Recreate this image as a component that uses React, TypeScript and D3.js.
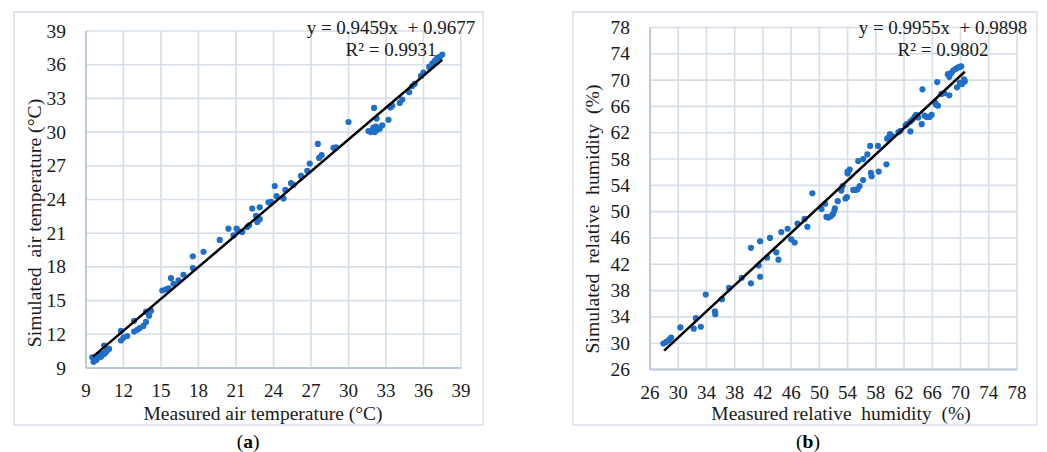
import React from "react";
import * as d3 from "d3";

// Panel (a): air temperature
const tempMeasured = [9.5, 9.6, 9.65, 9.8, 9.9, 10.0, 10.1, 10.2, 10.3, 10.4, 10.45, 10.5, 10.6, 10.7, 10.85, 10.2, 9.75,
  11.8, 11.8, 12.0, 12.3,
  12.85, 12.85, 13.1, 13.3, 13.6, 13.8, 13.8, 14.05, 14.2, 14.0,
  15.1, 15.4, 15.6, 15.8, 16.0, 16.4, 16.8,
  17.55, 17.55, 18.4,
  19.7, 20.4, 20.8, 21.05, 21.15, 21.5, 21.9, 22.05, 22.3, 22.6, 22.7, 22.9, 22.9, 23.6, 23.8,
  24.1, 24.25, 24.8, 24.95, 25.4, 25.6, 26.2, 26.7, 26.9, 27.55, 27.65, 27.85, 28.8, 29.0,
  30.0, 31.6, 31.8, 31.9, 32.0, 32.05, 32.1, 32.2, 32.25, 32.3, 32.5, 32.7, 33.2, 33.35, 33.5, 34.1, 34.3, 34.85, 35.1, 35.3, 35.8, 36.0, 36.45, 36.7, 36.9, 37.1, 37.3, 37.5];
const tempSimulated = [9.95, 9.55, 9.75, 9.7, 9.85, 9.95, 10.05, 10.0, 10.15, 10.25, 11.0, 10.3, 10.45, 10.55, 10.7, 10.3, 9.9,
  12.3, 11.45, 11.7, 11.85,
  13.2, 12.25, 12.4, 12.55, 12.75, 13.1, 14.0, 13.65, 14.1, 14.05,
  15.9, 16.0, 16.1, 17.0, 16.5, 16.8, 17.3,
  18.95, 17.9, 19.35,
  20.4, 21.4, 20.8, 21.4, 21.2, 21.1, 21.55, 21.7, 23.2, 22.55, 22.0, 23.3, 22.25, 23.75, 23.8,
  25.2, 24.3, 24.1, 24.85, 25.45, 25.3, 26.1, 26.55, 27.2, 28.95, 27.7, 27.95, 28.6, 28.65,
  30.9, 30.1, 30.0, 30.15, 30.4, 32.15, 30.0, 30.5, 31.2, 30.2, 30.3, 30.6, 31.1, 32.2, 32.35, 32.6, 32.9, 33.55, 34.1, 34.3, 35.0, 35.3, 35.8, 36.1, 36.35, 36.6, 36.7, 36.9];
const tempTicks = [9, 12, 15, 18, 21, 24, 27, 30, 33, 36, 39];
const tempFit = [9.56, 37.5];

// Panel (b): relative humidity
const rhMeasured = [27.9, 28.3, 28.7, 29.0, 30.3, 32.2, 32.5, 33.2, 33.9, 35.2, 35.25, 36.2, 37.2, 39.0, 40.3, 40.3, 41.6, 41.4, 41.6, 42.6, 43.0, 43.9, 44.2, 44.6, 45.5, 46.0, 46.5, 46.9, 47.9, 48.3,
  49.0, 50.3, 50.8, 51.0, 51.3, 51.6, 51.9, 52.1, 52.2, 52.6, 53.1, 53.3, 53.7, 53.9, 54.0, 54.3, 54.0, 54.8, 55.1, 55.4, 55.7, 55.5, 56.2, 56.2, 56.8, 57.2, 57.3, 57.4, 58.3, 58.4,
  59.5, 59.6, 59.8, 60.0, 60.3, 61.2, 61.5, 62.2, 62.4, 62.9, 62.9, 63.2, 63.5, 63.7, 64.0, 64.5, 64.6, 64.9, 65.2, 65.6, 65.9, 66.4, 66.5, 66.7, 66.8, 67.3, 67.7, 68.4,
  68.2, 68.4, 68.7, 69.0, 69.3, 69.6, 69.9, 70.1, 69.5, 69.9, 70.2, 70.5, 70.6];
const rhSimulated = [29.95, 30.2, 30.5, 30.85, 32.4, 32.2, 33.8, 32.5, 37.4, 34.85, 34.4, 36.7, 38.4, 39.95, 44.5, 39.1, 45.5, 41.8, 40.1, 43.0, 46.0, 43.8, 42.7, 46.9, 47.4, 45.8, 45.3, 48.2, 48.9, 47.7,
  52.8, 50.4, 51.2, 49.2, 49.1, 49.3, 49.6, 50.1, 50.5, 51.6, 53.2, 53.9, 52.0, 52.2, 56.1, 56.4, 55.8, 53.3, 53.3, 53.4, 53.9, 57.7, 54.8, 58.0, 58.7, 60.0, 55.9, 55.4, 60.0, 56.1,
  57.2, 61.1, 61.3, 61.8, 61.5, 62.1, 62.3, 63.1, 63.3, 62.2, 63.7, 64.0, 64.4, 64.7, 64.3, 63.3, 68.6, 64.6, 64.4, 64.4, 64.7, 66.6, 66.3, 69.7, 66.1, 67.9, 68.0, 67.7,
  70.9, 70.5, 71.1, 71.5, 71.7, 71.9, 72.0, 72.1, 68.9, 69.6, 69.4, 70.1, 69.8];
const rhTicks = [26, 30, 34, 38, 42, 46, 50, 54, 58, 62, 66, 70, 74, 78];
const rhFit = [28.0, 70.6];

const FONT = "'Liberation Serif', 'Times New Roman', serif";
const GRID = "#d5dee9";
const AXIS = "#b9c8da";
const DOT = "#1f6fc8";
const TXT = "#1a1a1a";

type PanelProps = {
  box: [number, number, number, number];
  plot: { left: number; right: number; top: number; bottom: number };
  xs: number[];
  ys: number[];
  ticks: number[];
  fit: number[];
  slope: number;
  intercept: number;
  eq: string;
  r2: string;
  eqX: number;
  xTitle: string;
  yTitle: string;
  xTitleX: number;
  yTitleX: number;
  yTitleY: number;
  tag: string;
  tagX: number;
};

function Panel(p: PanelProps) {
  const dom = d3.extent(p.ticks) as [number, number];
  const x = d3.scaleLinear().domain(dom).range([p.plot.left, p.plot.right]);
  const y = d3.scaleLinear().domain(dom).range([p.plot.bottom, p.plot.top]);
  const line = d3.line<number>().x((d) => x(d)).y((d) => y(p.slope * d + p.intercept));
  const [bx, by, bw, bh] = p.box;
  return (
    <g>
      <rect x={bx} y={by} width={bw} height={bh} fill="#fff" stroke="#d9e0ea" strokeWidth={1.5} />
      {p.ticks.map((t, i) => (
        <line key={"vx" + i} x1={x(t)} x2={x(t)} y1={p.plot.top} y2={p.plot.bottom} stroke={GRID} strokeWidth={1.6} />
      ))}
      {p.ticks.map((t, i) => (
        <line key={"hy" + i} x1={p.plot.left} x2={p.plot.right} y1={y(t)} y2={y(t)} stroke={GRID} strokeWidth={1.6} />
      ))}
      <line x1={p.plot.left} x2={p.plot.left} y1={p.plot.top} y2={p.plot.bottom} stroke={AXIS} strokeWidth={1.8} />
      <line x1={p.plot.left} x2={p.plot.right} y1={p.plot.bottom} y2={p.plot.bottom} stroke={AXIS} strokeWidth={1.8} />
      {p.ticks.map((t, i) => (
        <text key={"xl" + i} x={x(t)} y={p.plot.bottom + 29} textAnchor="middle" fontSize={19} fontFamily={FONT} fill={TXT}>{t}</text>
      ))}
      {p.ticks.map((t, i) => (
        <text key={"yl" + i} x={p.plot.left - 20} y={y(t) + 6.5} textAnchor="end" fontSize={19.5} fontFamily={FONT} fill={TXT}>{t}</text>
      ))}
      {p.xs.map((v, i) => (
        <circle key={"pt" + i} cx={x(v)} cy={y(p.ys[i])} r={3.1} fill={DOT} />
      ))}
      <path d={line(p.fit) || ""} stroke="#000" strokeWidth={2.5} fill="none" />
      <text x={p.eqX} y={34} textAnchor="middle" fontSize={19} fontFamily={FONT} fill={TXT} style={{ whiteSpace: "pre" }}>{p.eq}</text>
      <text x={p.eqX} y={56} textAnchor="middle" fontSize={19} fontFamily={FONT} fill={TXT}>{p.r2}</text>
      <text x={p.xTitleX} y={420} textAnchor="middle" fontSize={19.5} fontFamily={FONT} fill={TXT} style={{ whiteSpace: "pre" }}>{p.xTitle}</text>
      <text transform={`translate(${p.yTitleX},${p.yTitleY}) rotate(-90)`} textAnchor="middle" fontSize={19.7} fontFamily={FONT} fill={TXT} style={{ whiteSpace: "pre" }}>{p.yTitle}</text>
      <text x={p.tagX} y={448} textAnchor="middle" fontSize={19.5} fontFamily={FONT} fill="#000">(<tspan fontWeight="bold">{p.tag}</tspan>)</text>
    </g>
  );
}

export default function App() {
  return (
    <svg width={1047} height={452} style={{ position: "absolute", left: 0, top: 0, background: "#fff" }}>
      <rect x={0} y={0} width={1047} height={452} fill="#fff" />
      <Panel
        box={[14, 12, 469, 413]}
        plot={{ left: 86, right: 461, top: 31, bottom: 368 }}
        xs={tempMeasured}
        ys={tempSimulated}
        ticks={tempTicks}
        fit={tempFit}
        slope={0.9459}
        intercept={0.9677}
        eq={"y = 0.9459x  + 0.9677"}
        r2={"R² = 0.9931"}
        eqX={391}
        xTitle={"Measured air temperature (°C)"}
        yTitle={"Simulated  air temperature (°C)"}
        xTitleX={263}
        yTitleX={41}
        yTitleY={223}
        tag="a"
        tagX={248}
      />
      <Panel
        box={[573, 12, 464, 413]}
        plot={{ left: 650, right: 1017, top: 27.5, bottom: 369.5 }}
        xs={rhMeasured}
        ys={rhSimulated}
        ticks={rhTicks}
        fit={rhFit}
        slope={0.9955}
        intercept={0.9898}
        eq={"y = 0.9955x  + 0.9898"}
        r2={"R² = 0.9802"}
        eqX={943}
        xTitle={"Measured relative  humidity  (%)"}
        yTitle={"Simulated  relative  humidity  (%)"}
        xTitleX={841}
        yTitleX={599}
        yTitleY={219}
        tag="b"
        tagX={808}
      />
    </svg>
  );
}
